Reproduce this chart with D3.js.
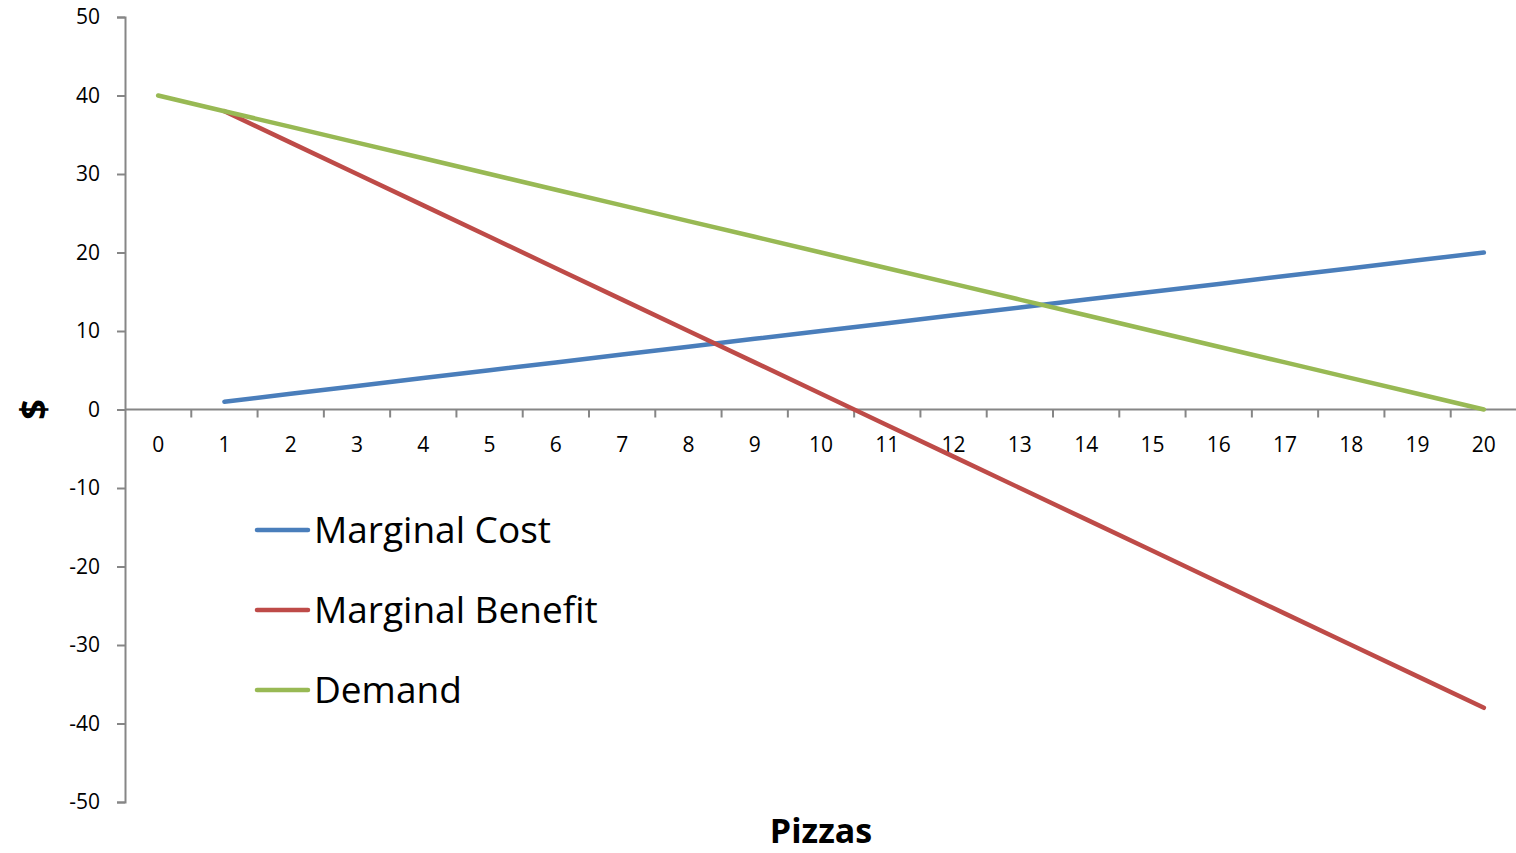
<!DOCTYPE html>
<html>
<head>
<meta charset="utf-8">
<script src="https://cdn.jsdelivr.net/npm/d3@7"></script>
<style>
  html, body { margin: 0; padding: 0; background: #fff; }
  svg { display: block; }
  text { font-family: "Open Sans", "Noto Sans", sans-serif; fill: #000; }
</style>
</head>
<body>
<svg id="chart" width="1516" height="853"></svg>
<script>
// Quantity of pizzas (category axis)
const pizzas = [0, 1, 2, 3, 4, 5, 6, 7, 8, 9, 10, 11, 12, 13, 14, 15, 16, 17, 18, 19, 20];

// Series values, null where no point is plotted
const marginalCost = [null, 1, 2, 3, 4, 5, 6, 7, 8, 9, 10, 11, 12, 13, 14, 15, 16, 17, 18, 19, 20];
const marginalBenefit = [null, 38, 34, 30, 26, 22, 18, 14, 10, 6, 2, -2, -6, -10, -14, -18, -22, -26, -30, -34, -38];
const demand = [40, 38, 36, 34, 32, 30, 28, 26, 24, 22, 20, 18, 16, 14, 12, 10, 8, 6, 4, 2, 0];

const yTicks = [50, 40, 30, 20, 10, 0, -10, -20, -30, -40, -50];

const series = [
  { name: "Marginal Cost", values: marginalCost, color: "#4a7ebb" },
  { name: "Marginal Benefit", values: marginalBenefit, color: "#be4b48" },
  { name: "Demand", values: demand, color: "#98b954" }
];

const svg = d3.select("#chart");
const axisColor = "#868686";

const x = d3.scaleBand().domain(pizzas).range([125, 1517]).padding(0);
const y = d3.scaleLinear().domain([-50, 50]).range([802, 17]);
const cx = d => x(d) + x.bandwidth() / 2;

// Y axis
const yAxis = svg.append("g").attr("transform", "translate(125,0)")
  .call(d3.axisLeft(y).tickValues(yTicks).tickSize(8).tickPadding(17).tickFormat(d => String(d)));
yAxis.select(".domain").attr("stroke", axisColor).attr("stroke-width", 2);
yAxis.selectAll(".tick line").attr("stroke", axisColor).attr("stroke-width", 2);
yAxis.selectAll(".tick text").style("font-size", "21px").attr("font-family", null);

// X axis at y = 0, with ticks between categories
const xAxisG = svg.append("g").attr("transform", `translate(0,${y(0)})`);
xAxisG.append("line")
  .attr("x1", 125).attr("x2", 1516)
  .attr("stroke", axisColor).attr("stroke-width", 2);
xAxisG.selectAll("line.tick")
  .data(pizzas.slice(1))
  .join("line")
  .attr("class", "tick")
  .attr("x1", d => x(d)).attr("x2", d => x(d))
  .attr("y1", 0).attr("y2", 8)
  .attr("stroke", axisColor).attr("stroke-width", 2);
xAxisG.selectAll("text")
  .data(pizzas)
  .join("text")
  .attr("x", d => cx(d))
  .attr("y", 42)
  .attr("text-anchor", "middle")
  .style("font-size", "21px")
  .text(d => d);

// Series lines
const line = d3.line()
  .defined(d => d.v !== null)
  .x(d => cx(d.p))
  .y(d => y(d.v));

series.forEach(s => {
  svg.append("path")
    .datum(pizzas.map((p, i) => ({ p, v: s.values[i] })))
    .attr("d", line)
    .attr("fill", "none")
    .attr("stroke", s.color)
    .attr("stroke-width", 4.5)
    .attr("stroke-linecap", "round")
    .attr("stroke-linejoin", "round");
});

// Axis titles
svg.append("text")
  .attr("transform", `translate(46,${y(0)}) rotate(-90)`)
  .attr("text-anchor", "middle")
  .style("font-size", "36px")
  .style("font-weight", "bold")
  .text("$");

svg.append("text")
  .attr("x", 821).attr("y", 843)
  .attr("text-anchor", "middle")
  .style("font-size", "34px")
  .style("font-weight", "bold")
  .text("Pizzas");

// Legend
const legend = svg.append("g");
series.forEach((s, i) => {
  const ly = 530 + i * 80;
  legend.append("line")
    .attr("x1", 257).attr("x2", 308)
    .attr("y1", ly).attr("y2", ly)
    .attr("stroke", s.color).attr("stroke-width", 4.5)
    .attr("stroke-linecap", "round");
  legend.append("text")
    .attr("x", 314).attr("y", ly + 13)
    .style("font-size", "37px")
    .text(s.name);
});
</script>
</body>
</html>
